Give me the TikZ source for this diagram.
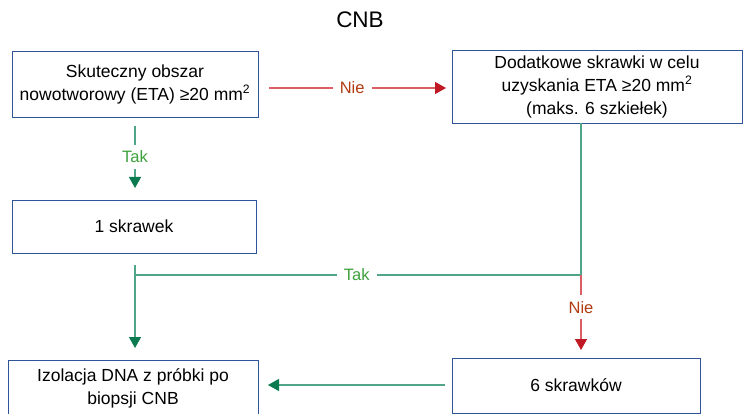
\documentclass[tikz,border=0pt]{standalone}
\usepackage{fontspec}
\setmainfont{Liberation Sans}
\usetikzlibrary{arrows.meta}
\definecolor{boxblue}{HTML}{2F5597}
\definecolor{gline}{HTML}{4FA585}
\definecolor{ghead}{HTML}{0B7A4E}
\definecolor{gtext}{HTML}{3DA33D}
\definecolor{rline}{HTML}{DB5E64}
\definecolor{rhead}{HTML}{C01825}
\definecolor{rtext}{HTML}{B23C12}
\begin{document}
\begin{tikzpicture}[x=1pt,y=-1pt,
  font=\fontsize{17.5}{23}\selectfont,
  box/.style={draw=boxblue, line width=0.9pt, align=center, inner sep=0pt, fill=white},
  gconn/.style={draw=gline, line width=1.3pt},
  rconn/.style={draw=rline, line width=1.3pt},
  garrow/.style={gconn, -{Triangle[length=11pt,width=12pt,color=ghead]}},
  rarrow/.style={rconn, -{Triangle[length=11pt,width=12pt,color=rhead]}},
  glabel/.style={fill=white, text=gtext, font=\fontsize{16.5}{18}\selectfont, inner xsep=7pt, inner ysep=6pt},
  rlabel/.style={fill=white, text=rtext, font=\fontsize{16.5}{18}\selectfont, inner xsep=7pt, inner ysep=6pt},
]
\useasboundingbox (0,0) rectangle (746,414);

\node (title) at (360,20) {\fontsize{22.5}{26}\selectfont CNB};

\node[box, minimum width=246pt, minimum height=66pt] (b1) at (135,84)
  {Skuteczny obszar\\nowotworowy (ETA) ≥20 mm\textsuperscript{2}};
\node[box, minimum width=290pt, minimum height=73pt] (b2) at (597,86.5)
  {Dodatkowe skrawki w celu\\uzyskania ETA ≥20 mm\textsuperscript{2}\\(maks. 6 szkiełek)};
\node[box, minimum width=244pt, minimum height=53pt] (b3) at (134,226.5) {1 skrawek};
\node[box, minimum width=250pt, minimum height=56pt] (b4) at (133,388)
  {Izolacja DNA z próbki po\\biopsji CNB};
\node[box, minimum width=248pt, minimum height=55pt] (b5) at (576,385.5) {6 skrawków};

% b1 -> b3 (Tak)
\coordinate (t1s) at (135,126);
\coordinate (t1e) at (135,188);
\draw[garrow] (t1s) -- node[glabel, pos=0.5] {Tak} (t1e);

% b1 -> b2 (Nie)
\coordinate (n1s) at (269,88);
\coordinate (n1e) at (446,88);
\draw[rarrow] (n1s) -- node[rlabel, pos=0.47] {Nie} (n1e);

% b2 down to junction
\coordinate (j) at (581,275);
\coordinate (jl) at (135,275);
\draw[gconn] (b2.south -| j) -- (j) -- node[glabel, pos=0.503] {Tak} (jl);

% vertical to b4
\coordinate (v1) at (135,265);
\coordinate (v2) at (135,348);
\draw[garrow] (v1) -- (v2);

% junction -> b5 (Nie)
\coordinate (r2) at (581,350);
\draw[rarrow] (j) -- node[rlabel, pos=0.43] {Nie} (r2);

% b5 -> b4
\coordinate (h1) at (445,385);
\coordinate (h2) at (268,385);
\draw[garrow] (h1) -- (h2);
\end{tikzpicture}
\end{document}
